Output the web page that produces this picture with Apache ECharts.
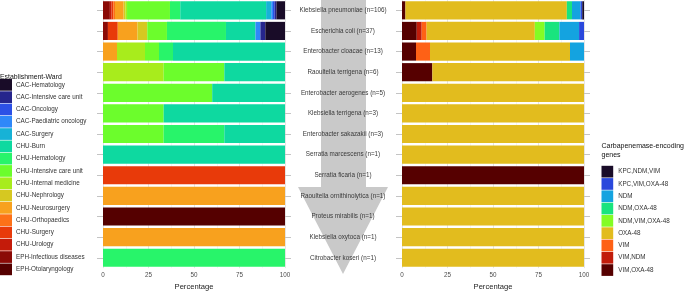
<!DOCTYPE html>
<html>
<head>
<meta charset="utf-8">
<script src="https://cdn.jsdelivr.net/npm/echarts@6/dist/echarts.min.js"></script>
<style>
  html, body { margin: 0; padding: 0; background: #fff; }
  #chart { width: 685px; height: 296px; }
</style>
</head>
<body>
<div id="chart"></div>
<script>
// species, top to bottom, with isolate counts
const species = [
    "Klebsiella pneumoniae", "Escherichia coli", "Enterobacter cloacae", "Raoultella terrigena",
    "Enterobacter aerogenes", "Klebsiella terrigena", "Enterobacter sakazakii", "Serratia marcescens",
    "Serratia ficaria", "Raoultella ornithinolytica", "Proteus mirabilis", "Klebsiella oxytoca",
    "Citrobacter koseri"
]
const speciesN = [106, 37, 13, 6, 5, 3, 3, 1, 1, 1, 1, 1, 1]

// wards, legend order
const wards = [
    "CAC-Hematology", "CAC-Intensive care unit", "CAC-Oncology", "CAC-Paediatric oncology",
    "CAC-Surgery", "CHU-Burn", "CHU-Hematology", "CHU-Intensive care unit",
    "CHU-Internal medicine", "CHU-Nephrology", "CHU-Neurosurgery", "CHU-Orthopaedics",
    "CHU-Surgery", "CHU-Urology", "EPH-Infectious diseases", "EPH-Otolaryngology"
]
const wardColors = [
    "#190c28", "#26258c", "#2c50e6", "#2f88f9", "#17b2d6", "#0ed9a0", "#28f46a", "#6cfd2c",
    "#a8ec1c", "#d6c821", "#f8a11e", "#fd7118", "#e83a0a", "#c41b0a", "#8b0a06", "#550000"
]

// isolates per ward, one value per species
const cacHematology     = [5, 4, 0, 0, 0, 0, 0, 0, 0, 0, 0, 0, 0]
const cacIcu            = [1, 1, 0, 0, 0, 0, 0, 0, 0, 0, 0, 0, 0]
const cacOncology       = [1, 0, 0, 0, 0, 0, 0, 0, 0, 0, 0, 0, 0]
const cacPaediatric     = [1, 1, 0, 0, 0, 0, 0, 0, 0, 0, 0, 0, 0]
const cacSurgery        = [3, 0, 0, 0, 0, 0, 0, 0, 0, 0, 0, 0, 0]
const chuBurn           = [50, 6, 8, 2, 2, 2, 1, 1, 0, 0, 0, 0, 0]
const chuHematology     = [6, 12, 1, 0, 0, 0, 1, 0, 0, 0, 0, 0, 1]
const chuIcu            = [25, 4, 1, 2, 3, 1, 1, 0, 0, 0, 0, 0, 0]
const chuInternal       = [1, 0, 2, 2, 0, 0, 0, 0, 0, 0, 0, 0, 0]
const chuNephrology     = [1, 2, 0, 0, 0, 0, 0, 0, 0, 0, 0, 0, 0]
const chuNeurosurgery   = [5, 4, 1, 0, 0, 0, 0, 0, 0, 1, 0, 1, 0]
const chuOrthopaedics   = [1, 0, 0, 0, 0, 0, 0, 0, 0, 0, 0, 0, 0]
const chuSurgery        = [1, 2, 0, 0, 0, 0, 0, 0, 1, 0, 0, 0, 0]
const chuUrology        = [1, 0, 0, 0, 0, 0, 0, 0, 0, 0, 0, 0, 0]
const ephInfectious     = [4, 1, 0, 0, 0, 0, 0, 0, 0, 0, 0, 0, 0]
const ephOtolaryngology = [0, 0, 0, 0, 0, 0, 0, 0, 0, 0, 1, 0, 0]

const wardCounts = [
    cacHematology, cacIcu, cacOncology, cacPaediatric, cacSurgery, chuBurn, chuHematology, chuIcu,
    chuInternal, chuNephrology, chuNeurosurgery, chuOrthopaedics, chuSurgery, chuUrology,
    ephInfectious, ephOtolaryngology
]

// genes, legend order
const genes = [
    "KPC,NDM,VIM", "KPC,VIM,OXA-48", "NDM", "NDM,OXA-48", "NDM,VIM,OXA-48",
    "OXA-48", "VIM", "VIM,NDM", "VIM,OXA-48"
]
const geneColors = [
    "#190c28", "#2a48dc", "#14a3e0", "#19e47e", "#84fc24", "#e2bc1e", "#fe6116", "#c11c0b", "#560000"
]

const kpcNdmVim   = [1, 0, 0, 0, 0, 0, 0, 0, 0, 0, 0, 0, 0]
const kpcVimOxa   = [1, 1, 0, 0, 0, 0, 0, 0, 0, 0, 0, 0, 0]
const ndm         = [5, 4, 1, 0, 0, 0, 0, 0, 0, 0, 0, 0, 0]
const ndmOxa      = [3, 3, 0, 0, 0, 0, 0, 0, 0, 0, 0, 0, 0]
const ndmVimOxa   = [0, 2, 0, 0, 0, 0, 0, 0, 0, 0, 0, 0, 0]
const oxa48       = [94, 22, 10, 5, 5, 3, 3, 1, 0, 1, 1, 1, 1]
const vim         = [0, 1, 1, 0, 0, 0, 0, 0, 0, 0, 0, 0, 0]
const vimNdm      = [0, 1, 0, 0, 0, 0, 0, 0, 0, 0, 0, 0, 0]
const vimOxa      = [2, 3, 1, 1, 0, 0, 0, 0, 1, 0, 0, 0, 0]

const geneCounts = [kpcNdmVim, kpcVimOxa, ndm, ndmOxa, ndmVimOxa, oxa48, vim, vimNdm, vimOxa]

const percentTicks = [0, 25, 50, 75, 100]

const labels = species.map((s, i) => s + " (n=" + speciesN[i] + ")")
const font = "Liberation Sans"

function toPercent(counts){
    return counts.map((c, i) => c / speciesN[i] * 100)
}

// ggplot stacks the last level first, so build series in reverse
let series = []
for (let i = wards.length - 1; i >= 0; i--){
    series.push({
        name: wards[i], type: "bar", stack: "ward",
        xAxisIndex: 0, yAxisIndex: 0, barWidth: "88%",
        itemStyle: { color: wardColors[i] },
        data: toPercent(wardCounts[i])
    })
}
for (let i = genes.length - 1; i >= 0; i--){
    series.push({
        name: genes[i], type: "bar", stack: "gene",
        xAxisIndex: 1, yAxisIndex: 2, barWidth: "88%",
        itemStyle: { color: geneColors[i] },
        data: toPercent(geneCounts[i])
    })
}

function xAxisFor(idx){
    return {
        type: "value", gridIndex: idx, min: 0, max: 100, interval: 25,
        axisLine: { show: false }, axisTick: { show: false },
        axisLabel: {
            fontFamily: font, fontSize: 6.3, color: "#4d4d4d", margin: 4,
            formatter: v => percentTicks.includes(v) ? String(v) : ""
        },
        splitLine: { show: true, lineStyle: { color: "#dedede", width: 0.8 } },
        minorTick: { show: false, splitNumber: 2 },
        minorSplitLine: { show: true, lineStyle: { color: "#eeeeee", width: 0.6 } },
        name: "Percentage", nameLocation: "middle", nameGap: 11.5,
        nameTextStyle: { fontFamily: font, fontSize: 7.6, color: "#222" }
    }
}

function yAxisFor(idx, pos, showLabels){
    return {
        type: "category", gridIndex: idx, position: pos, inverse: true, data: labels,
        axisLine: { show: false },
        axisTick: { show: true, alignWithLabel: true, length: 6, lineStyle: { color: "#c4c4c4" } },
        axisLabel: showLabels ? {
            show: true, align: "center", margin: 59,
            fontFamily: font, fontSize: 6.3, color: "#3a3a3a"
        } : { show: false },
        splitLine: { show: false }
    }
}

let myChart = echarts.init(document.getElementById("chart"))
let option = {
    animation: false,
    backgroundColor: "#fff",
    grid: [
        { left: 103, top: -1, width: 182, height: 277.3 },
        { left: 402, top: -1, width: 182, height: 277.3 }
    ],
    xAxis: [xAxisFor(0), xAxisFor(1)],
    yAxis: [
        yAxisFor(0, "left", false),
        yAxisFor(0, "right", false),
        yAxisFor(1, "left", true),
        yAxisFor(1, "right", false)
    ],
    title: [
        {
            text: "Establishment-Ward", left: 0, top: 74, padding: 0,
            textStyle: { fontFamily: font, fontSize: 6.9, fontWeight: "normal", color: "#111" }
        },
        {
            text: "Carbapenemase-encoding\ngenes", left: 601.5, top: 141.5, padding: 0,
            textStyle: { fontFamily: font, fontSize: 7, fontWeight: "normal", color: "#111", lineHeight: 9 }
        }
    ],
    legend: [
        {
            data: wards, orient: "vertical", left: 0, top: 79, padding: 0,
            icon: "rect", itemWidth: 12, itemHeight: 11.7, itemGap: 0.6,
            selectedMode: false,
            textStyle: { fontFamily: font, fontSize: 6.3, color: "#333", padding: [0, 0, 0, -1] }
        },
        {
            data: genes, orient: "vertical", left: 601.5, top: 165.8, padding: 0,
            icon: "rect", itemWidth: 11.7, itemHeight: 11.7, itemGap: 0.6,
            selectedMode: false,
            textStyle: { fontFamily: font, fontSize: 6.3, color: "#333" }
        }
    ],
    graphic: [{
        type: "polygon", z: -10, silent: true,
        shape: { points: [[321, 0], [366, 0], [366, 187], [388, 187], [343, 274], [298, 187], [321, 187]] },
        style: { fill: "#c9c9c9" }
    }],
    series: series
}
myChart.setOption(option)
</script>
</body>
</html>
